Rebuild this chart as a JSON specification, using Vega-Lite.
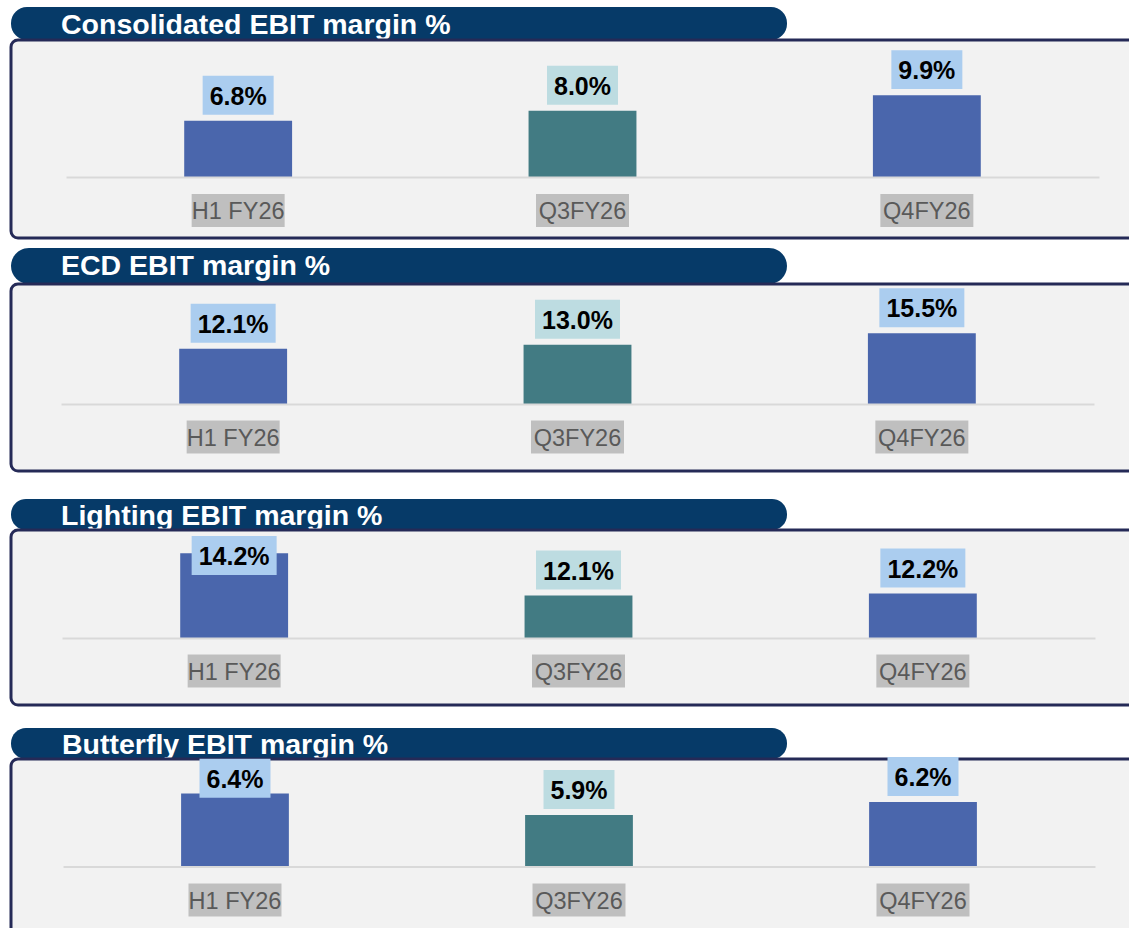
{
  "$schema": "https://vega.github.io/schema/vega-lite/v6.json",
  "padding": {"left": 9, "top": 7, "right": 0, "bottom": 0},
  "background": "white",
  "config": {
    "view": {"stroke": null},
    "font": "Liberation Sans",
    "axisX": {"orient": "bottom", "domainColor": "#d9d9d9", "domainWidth": 2, "ticks": false, "tickSize": 0, "labelFont": "Liberation Sans", "labelFontSize": 23.5, "labelColor": "#595959", "labelAngle": 0, "labelBaseline": "middle", "labelPadding": 34.5, "title": null, "grid": false}
  },
  "datasets": {
    "consolidated": [
      {"cat": "H1 FY26", "value": 6.8, "label": "6.8%"},
      {"cat": "Q3FY26", "value": 8.0, "label": "8.0%"},
      {"cat": "Q4FY26", "value": 9.9, "label": "9.9%"}
    ],
    "ecd": [
      {"cat": "H1 FY26", "value": 12.1, "label": "12.1%"},
      {"cat": "Q3FY26", "value": 13.0, "label": "13.0%"},
      {"cat": "Q4FY26", "value": 15.5, "label": "15.5%"}
    ],
    "lighting": [
      {"cat": "H1 FY26", "value": 14.2, "label": "14.2%"},
      {"cat": "Q3FY26", "value": 12.1, "label": "12.1%"},
      {"cat": "Q4FY26", "value": 12.2, "label": "12.2%"}
    ],
    "butterfly": [
      {"cat": "H1 FY26", "value": 6.4, "label": "6.4%"},
      {"cat": "Q3FY26", "value": 5.9, "label": "5.9%"},
      {"cat": "Q4FY26", "value": 6.2, "label": "6.2%"}
    ]
  },
  "spacing": 26,
  "vconcat": [
    {
      "spacing": 8,
      "vconcat": [
        {
          "bounds": "flush",
          "spacing": 0,
          "vconcat": [
            {
              "width": 776, "height": 33,
              "view": {"fill": "#063a68", "stroke": null, "cornerRadius": 16},
              "data": {"values": [{"title": "Consolidated EBIT margin %"}]},
              "mark": {"type": "text", "align": "left", "baseline": "middle", "dx": -338, "dy": 1, "fontSize": 28.5, "fontWeight": "bold", "color": "white"},
              "encoding": {"text": {"field": "title"}}
            },
            {
              "width": 1140, "height": 198,
              "view": {"fill": "#f2f2f2", "stroke": "#252a57", "strokeWidth": 3, "cornerRadius": 7},
              "data": {"name": "consolidated"},
              "encoding": {"x": {"field": "cat", "type": "nominal", "scale": {"domain": ["H1 FY26", "Q3FY26", "Q4FY26"], "range": [55, 1088], "paddingInner": 0.6867, "paddingOuter": 0.3433}, "axis": {"offset": -61, "zindex": 1}}},
              "layer": [
                {"mark": {"type": "bar"},
                 "encoding": {"y": {"field": "value", "type": "quantitative", "scale": {"domain": [-7.376, 16.566], "nice": false, "zero": false}, "axis": null}, "y2": {"datum": 0},
                   "color": {"field": "cat", "type": "nominal", "scale": {"domain": ["H1 FY26", "Q3FY26", "Q4FY26"], "range": ["#4a66ac", "#427b83", "#4a66ac"]}, "legend": null}}},
                {"mark": {"type": "point", "shape": "M-1,-0.549H1V0.549H-1Z", "size": 5041, "filled": true, "opacity": 1, "strokeWidth": 0, "yOffset": -25.5},
                 "encoding": {"y": {"field": "value", "type": "quantitative"},
                   "color": {"condition": {"test": "datum.cat === 'Q3FY26'", "value": "#bddce1"}, "value": "#abcdef"}}},
                {"mark": {"type": "text", "fontSize": 25, "fontWeight": "bold", "color": "black", "baseline": "middle", "yOffset": -24},
                 "encoding": {"y": {"field": "value", "type": "quantitative"}, "text": {"field": "label"}}},
                {"mark": {"type": "point", "shape": "M-1,-0.355H1V0.355H-1Z", "size": 8649, "filled": true, "opacity": 1, "strokeWidth": 0, "color": "#bfbfbf", "yOffset": 71.5},
                 "encoding": {}}
              ]
            }
          ]
        },
        {
          "bounds": "flush",
          "spacing": 0,
          "vconcat": [
            {
              "width": 776, "height": 36,
              "view": {"fill": "#063a68", "stroke": null, "cornerRadius": 18},
              "data": {"values": [{"title": "ECD EBIT margin %"}]},
              "mark": {"type": "text", "align": "left", "baseline": "middle", "dx": -338, "dy": 0, "fontSize": 28.5, "fontWeight": "bold", "color": "white"},
              "encoding": {"text": {"field": "title"}}
            },
            {
              "width": 1140, "height": 187,
              "view": {"fill": "#f2f2f2", "stroke": "#252a57", "strokeWidth": 3, "cornerRadius": 7},
              "data": {"name": "ecd"},
              "encoding": {"x": {"field": "cat", "type": "nominal", "scale": {"domain": ["H1 FY26", "Q3FY26", "Q4FY26"], "range": [50, 1083], "paddingInner": 0.6867, "paddingOuter": 0.3433}, "axis": {"offset": -67, "zindex": 1}}},
              "layer": [
                {"mark": {"type": "bar"},
                 "encoding": {"y": {"field": "value", "type": "quantitative", "scale": {"domain": [-14.69, 26.32], "nice": false, "zero": false}, "axis": null}, "y2": {"datum": 0},
                   "color": {"field": "cat", "type": "nominal", "scale": {"domain": ["H1 FY26", "Q3FY26", "Q4FY26"], "range": ["#4a66ac", "#427b83", "#4a66ac"]}, "legend": null}}},
                {"mark": {"type": "point", "shape": "M-1,-0.4588H1V0.4588H-1Z", "size": 7225, "filled": true, "opacity": 1, "strokeWidth": 0, "yOffset": -25.5},
                 "encoding": {"y": {"field": "value", "type": "quantitative"},
                   "color": {"condition": {"test": "datum.cat === 'Q3FY26'", "value": "#bddce1"}, "value": "#abcdef"}}},
                {"mark": {"type": "text", "fontSize": 25, "fontWeight": "bold", "color": "black", "baseline": "middle", "yOffset": -24},
                 "encoding": {"y": {"field": "value", "type": "quantitative"}, "text": {"field": "label"}}},
                {"mark": {"type": "point", "shape": "M-1,-0.355H1V0.355H-1Z", "size": 8649, "filled": true, "opacity": 1, "strokeWidth": 0, "color": "#bfbfbf", "yOffset": 59.5},
                 "encoding": {}}
              ]
            }
          ]
        }
      ]
    },
    {
      "spacing": 21,
      "vconcat": [
        {
          "bounds": "flush",
          "spacing": 0,
          "vconcat": [
            {
              "width": 776, "height": 31,
              "view": {"fill": "#063a68", "stroke": null, "cornerRadius": 15},
              "data": {"values": [{"title": "Lighting EBIT margin %"}]},
              "mark": {"type": "text", "align": "left", "baseline": "middle", "dx": -338, "dy": 1, "fontSize": 28.5, "fontWeight": "bold", "color": "white"},
              "encoding": {"text": {"field": "title"}}
            },
            {
              "width": 1140, "height": 175,
              "view": {"fill": "#f2f2f2", "stroke": "#252a57", "strokeWidth": 3, "cornerRadius": 7},
              "data": {"name": "lighting"},
              "encoding": {"x": {"field": "cat", "type": "nominal", "scale": {"domain": ["H1 FY26", "Q3FY26", "Q4FY26"], "range": [51, 1084], "paddingInner": 0.6867, "paddingOuter": 0.3433}, "axis": {"offset": -67, "zindex": 1}}},
              "layer": [
                {"mark": {"type": "bar"},
                 "encoding": {"y": {"field": "value", "type": "quantitative", "scale": {"domain": [6.683, 15.347], "nice": false, "zero": false}, "axis": null}, "y2": {"datum": 10},
                   "color": {"field": "cat", "type": "nominal", "scale": {"domain": ["H1 FY26", "Q3FY26", "Q4FY26"], "range": ["#4a66ac", "#427b83", "#4a66ac"]}, "legend": null}}},
                {"transform": [{"filter": "datum.cat !== 'H1 FY26'"}],
                 "mark": {"type": "point", "shape": "M-1,-0.4588H1V0.4588H-1Z", "size": 7225, "filled": true, "opacity": 1, "strokeWidth": 0, "yOffset": -25.5},
                 "encoding": {"y": {"field": "value", "type": "quantitative"},
                   "color": {"condition": {"test": "datum.cat === 'Q3FY26'", "value": "#bddce1"}, "value": "#abcdef"}}},
                {"transform": [{"filter": "datum.cat !== 'H1 FY26'"}],
                 "mark": {"type": "text", "fontSize": 25, "fontWeight": "bold", "color": "black", "baseline": "middle", "yOffset": -24},
                 "encoding": {"y": {"field": "value", "type": "quantitative"}, "text": {"field": "label"}}},
                {"transform": [{"filter": "datum.cat === 'H1 FY26'"}],
                 "mark": {"type": "point", "shape": "M-1,-0.4588H1V0.4588H-1Z", "size": 7225, "filled": true, "opacity": 1, "strokeWidth": 0, "yOffset": 2.3, "color": "#abcdef"},
                 "encoding": {"y": {"field": "value", "type": "quantitative"}}},
                {"transform": [{"filter": "datum.cat === 'H1 FY26'"}],
                 "mark": {"type": "text", "fontSize": 25, "fontWeight": "bold", "color": "black", "baseline": "middle", "yOffset": 3.8},
                 "encoding": {"y": {"field": "value", "type": "quantitative"}, "text": {"field": "label"}}},
                {"mark": {"type": "point", "shape": "M-1,-0.355H1V0.355H-1Z", "size": 8649, "filled": true, "opacity": 1, "strokeWidth": 0, "color": "#bfbfbf", "yOffset": 53.5},
                 "encoding": {}}
              ]
            }
          ]
        },
        {
          "bounds": "flush",
          "spacing": 0,
          "vconcat": [
            {
              "width": 776, "height": 31,
              "view": {"fill": "#063a68", "stroke": null, "cornerRadius": 15},
              "data": {"values": [{"title": "Butterfly EBIT margin %"}]},
              "mark": {"type": "text", "align": "left", "baseline": "middle", "dx": -337, "dy": 1, "fontSize": 28.5, "fontWeight": "bold", "color": "white"},
              "encoding": {"text": {"field": "title"}}
            },
            {
              "width": 1140, "height": 200,
              "view": {"fill": "#f2f2f2", "stroke": "#252a57", "strokeWidth": 3, "cornerRadius": 7},
              "data": {"name": "butterfly"},
              "encoding": {"x": {"field": "cat", "type": "nominal", "scale": {"domain": ["H1 FY26", "Q3FY26", "Q4FY26"], "range": [52, 1084], "paddingInner": 0.6867, "paddingOuter": 0.3433}, "axis": {"offset": -92.5, "zindex": 1}}},
              "layer": [
                {"mark": {"type": "bar"},
                 "encoding": {"y": {"field": "value", "type": "quantitative", "scale": {"domain": [2.549, 7.2], "nice": false, "zero": false}, "axis": null}, "y2": {"datum": 4.7},
                   "color": {"field": "cat", "type": "nominal", "scale": {"domain": ["H1 FY26", "Q3FY26", "Q4FY26"], "range": ["#4a66ac", "#427b83", "#4a66ac"]}, "legend": null}}},
                {"transform": [{"filter": "datum.cat !== 'H1 FY26'"}],
                 "mark": {"type": "point", "shape": "M-1,-0.549H1V0.549H-1Z", "size": 5041, "filled": true, "opacity": 1, "strokeWidth": 0, "yOffset": -25.5},
                 "encoding": {"y": {"field": "value", "type": "quantitative"},
                   "color": {"condition": {"test": "datum.cat === 'Q3FY26'", "value": "#bddce1"}, "value": "#abcdef"}}},
                {"transform": [{"filter": "datum.cat !== 'H1 FY26'"}],
                 "mark": {"type": "text", "fontSize": 25, "fontWeight": "bold", "color": "black", "baseline": "middle", "yOffset": -24},
                 "encoding": {"y": {"field": "value", "type": "quantitative"}, "text": {"field": "label"}}},
                {"transform": [{"filter": "datum.cat === 'H1 FY26'"}],
                 "mark": {"type": "point", "shape": "M-1,-0.549H1V0.549H-1Z", "size": 5041, "filled": true, "opacity": 1, "strokeWidth": 0, "yOffset": -15.1, "color": "#abcdef"},
                 "encoding": {"y": {"field": "value", "type": "quantitative"}}},
                {"transform": [{"filter": "datum.cat === 'H1 FY26'"}],
                 "mark": {"type": "text", "fontSize": 25, "fontWeight": "bold", "color": "black", "baseline": "middle", "yOffset": -13.6},
                 "encoding": {"y": {"field": "value", "type": "quantitative"}, "text": {"field": "label"}}},
                {"mark": {"type": "point", "shape": "M-1,-0.355H1V0.355H-1Z", "size": 8649, "filled": true, "opacity": 1, "strokeWidth": 0, "color": "#bfbfbf", "yOffset": 41},
                 "encoding": {}}
              ]
            }
          ]
        }
      ]
    }
  ]
}
